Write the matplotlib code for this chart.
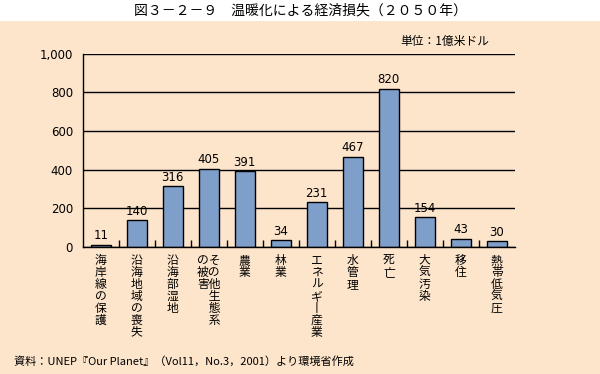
import matplotlib
matplotlib.use("Agg")
import matplotlib.pyplot as plt
import numpy as np
from matplotlib.patches import Rectangle

plt.rcParams['font.family'] = ['Noto Sans CJK JP', 'DejaVu Sans']

# vertical labels: one character per line (two columns for the 4th label)
categories = [
    "海\n岸\n線\nの\n保\n護",
    "沿\n海\n地\n域\nの\n喪\n失",
    "沿\n海\n部\n湿\n地",
    "のそ\n被の\n害他\n　生\n　態\n　系",
    "農\n業",
    "林\n業",
    "エ\nネ\nル\nギ\n丨\n産\n業",
    "水\n管\n理",
    "死\n亡",
    "大\n気\n汚\n染",
    "移\n住",
    "熱\n帯\n低\n気\n圧",
]
values = [11, 140, 316, 405, 391, 34, 231, 467, 820, 154, 43, 30]
yticks = [0, 200, 400, 600, 800, 1000]
ytick_labels = ["0", "200", "400", "600", "800", "1,000"]

bg = "#FDE5CC"
bar_color = "#7F9FCB"

fig = plt.figure(figsize=(6, 3.74), dpi=100, facecolor=bg)
fig.patches.append(Rectangle((0, 0.944), 1, 0.056, transform=fig.transFigure,
                             facecolor="white", edgecolor="none", zorder=0))

ax = fig.add_axes([0.138, 0.340, 0.720, 0.516])
ax.set_facecolor(bg)

x = np.arange(len(values))
ax.bar(x, values, width=0.56, color=bar_color, edgecolor="black", linewidth=1, zorder=3)
for xi, v in zip(x, values):
    ax.text(xi, v + 12, str(v), ha="center", va="bottom", fontsize=8.5, family="DejaVu Sans")

ax.set_xlim(-0.5, len(values) - 0.5)
ax.set_ylim(0, 1000)
ax.set_yticks(yticks)
ax.set_yticklabels(ytick_labels, fontsize=8.5, family="DejaVu Sans")
ax.tick_params(axis="y", length=0, pad=7)
ax.grid(axis="y", color="black", linewidth=1, zorder=1)

ax.set_xticks(x)
ax.set_xticklabels(categories, fontsize=8.5, linespacing=0.9, va="top")
ax.tick_params(axis="x", which="major", length=0, pad=5)
ax.set_xticks(np.arange(0.5, len(values) - 0.5, 1), minor=True)
ax.tick_params(axis="x", which="minor", direction="in", length=5, width=1)

for side in ["top", "right"]:
    ax.spines[side].set_visible(False)
for side in ["left", "bottom"]:
    ax.spines[side].set_linewidth(1)
    ax.spines[side].set_zorder(4)

fig.text(0.5, 0.972, "図３－２－９　温暖化による経済損失（２０５０年）", ha="center", va="center", fontsize=10)
fig.text(0.815, 0.888, "単位：1億米ドル", ha="right", va="center", fontsize=8.5)
fig.text(0.023, 0.035, "資料：UNEP『Our Planet』（Vol11，No.3，2001）より環境省作成",
         ha="left", va="center", fontsize=8)

fig.savefig("out.png", dpi=100, facecolor=bg)
